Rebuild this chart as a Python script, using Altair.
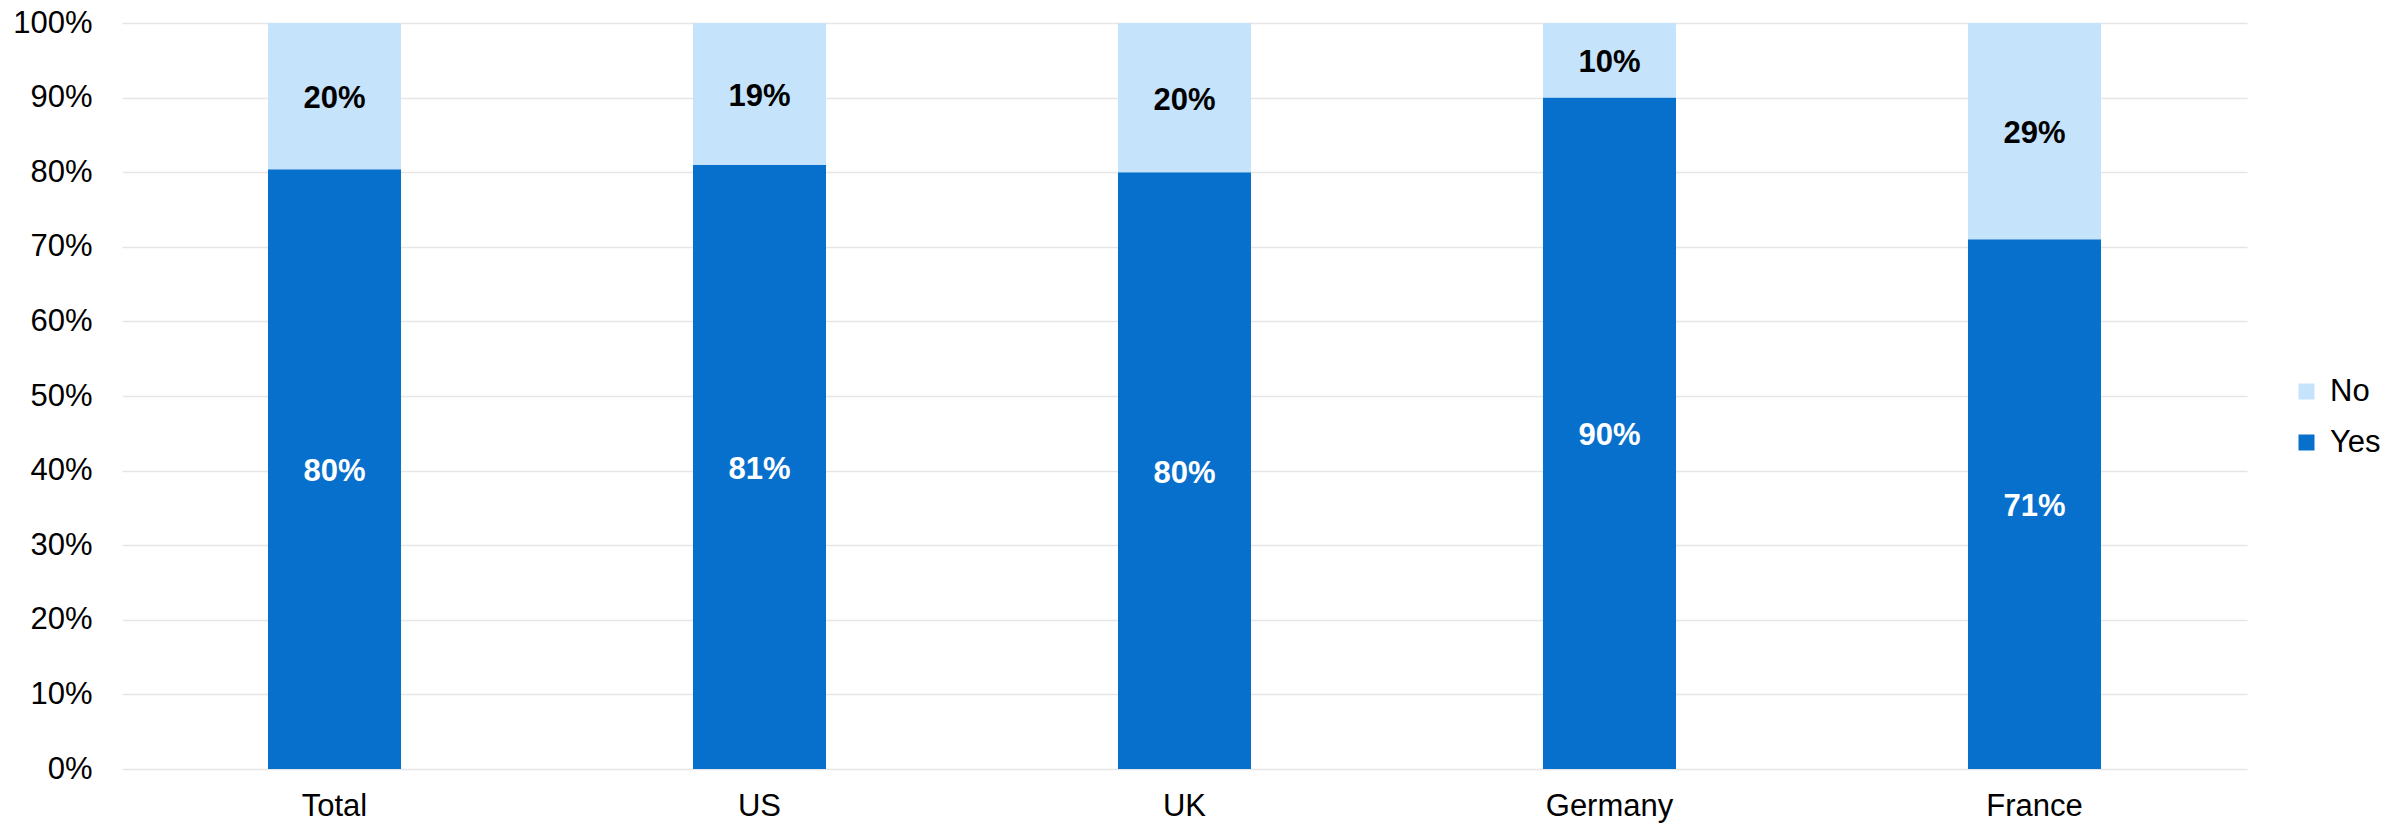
import altair as alt
import pandas as pd

countries = ["Total", "US", "UK", "Germany", "France"]
yes_vals = [0.804, 0.81, 0.80, 0.90, 0.71]
no_vals = [0.196, 0.19, 0.20, 0.10, 0.29]
answers = ["No", "Yes"]
colors = ["#C5E3FB", "#0770CD"]

rows = []
for c, y, n in zip(countries, yes_vals, no_vals):
    rows.append({"country": c, "answer": "Yes", "value": y, "ord": 0})
    rows.append({"country": c, "answer": "No", "value": n, "ord": 1})
df = pd.DataFrame(rows)

FONT = "Liberation Sans"

base = alt.Chart(df).transform_stack(
    stack="value", groupby=["country"], as_=["y0", "y1"],
    sort=[alt.SortField("ord", order="ascending")]
).transform_calculate(mid="(datum.y0 + datum.y1) / 2")

x_enc = alt.X("country:N", sort=countries, title=None,
              scale=alt.Scale(paddingInner=0.687, paddingOuter=0.3435),
              axis=alt.Axis(labelAngle=0, domain=False, ticks=False, tickSize=0,
                            labelFontSize=31, labelFont=FONT, labelColor="#000000",
                            labelPadding=22))

bars = base.mark_bar().encode(
    x=x_enc,
    y=alt.Y("y0:Q", title=None, scale=alt.Scale(domain=[0, 1]),
            axis=alt.Axis(values=[i / 10 for i in range(11)], format=".0%",
                          domain=False, ticks=False, tickSize=0,
                          labelFontSize=31, labelFont=FONT, labelColor="#000000",
                          labelPadding=30, gridColor="#E6E6E6", gridWidth=1.5)),
    y2="y1:Q",
    color=alt.Color("answer:N", scale=alt.Scale(domain=answers, range=colors),
                    legend=alt.Legend(title=None, orient="none", legendX=2169, legendY=353,
                                      symbolType="square", symbolSize=256,
                                      symbolStrokeWidth=0,
                                      labelFontSize=31, labelFont=FONT, labelColor="#000000",
                                      labelOffset=8, rowPadding=19)),
)

labels = base.mark_text(font=FONT, fontSize=31, fontWeight="bold",
                        align="center", baseline="middle", dy=3).encode(
    x=alt.X("country:N", sort=countries),
    y=alt.Y("mid:Q"),
    text=alt.Text("value:Q", format=".0%"),
    color=alt.condition(alt.datum.answer == "Yes", alt.value("#FFFFFF"), alt.value("#000000")),
)

chart = alt.layer(bars, labels).properties(
    width=2125, height=746,
    autosize=alt.AutoSizeParams(type="none"),
    padding={"left": 122, "top": 23, "right": 150, "bottom": 54},
    background="white",
).configure_view(stroke=None)

chart.save("out.html", embed_options={"renderer": "svg", "actions": False})
